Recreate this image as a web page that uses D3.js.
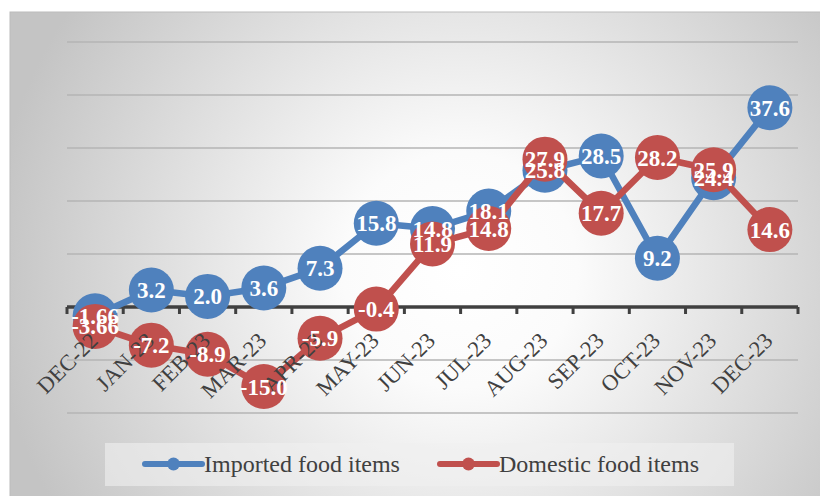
<!DOCTYPE html>
<html><head><meta charset="utf-8">
<script src="https://cdn.jsdelivr.net/npm/d3@7/dist/d3.min.js"></script>
<style>html,body{margin:0;padding:0;background:#fff;overflow:hidden}svg{display:block}</style>
</head><body>
<script>
const categories = ["DEC-22","JAN-23","FEB-23","MAR-23","APR-23","MAY-23","JUN-23","JUL-23","AUG-23","SEP-23","OCT-23","NOV-23","DEC-23"];
const imported = [-1.66, 3.2, 2.0, 3.6, 7.3, 15.8, 14.8, 18.1, 25.8, 28.5, 9.2, 24.4, 37.6];
const domestic = [-3.66, -7.2, -8.9, -15.0, -5.9, -0.4, 11.9, 14.8, 27.9, 17.7, 28.2, 25.9, 14.6];
const importedLabels = ["-1.66","3.2","2.0","3.6","7.3","15.8","14.8","18.1","25.8","28.5","9.2","24.4","37.6"];
const domesticLabels = ["-3.66","-7.2","-8.9","-15.0","-5.9","-0.4","11.9","14.8","27.9","17.7","28.2","25.9","14.6"];
const gridTicks = [-20, -10, 10, 20, 30, 40, 50];
const seriesNames = ["Imported food items", "Domestic food items"];
const seriesColors = ["#4F81BD", "#C0504D"];

const W = 820, H = 496;
const svg = d3.select("body").append("svg").attr("width", W).attr("height", H);
const defs = svg.append("defs");
const rg = defs.append("radialGradient").attr("id","bg").attr("gradientUnits","userSpaceOnUse")
  .attr("cx",460).attr("cy",270).attr("r",470);
rg.append("stop").attr("offset","0").attr("stop-color","#FFFFFF");
rg.append("stop").attr("offset","0.25").attr("stop-color","#FBFBFB");
rg.append("stop").attr("offset","1").attr("stop-color","#C4C4C4");

svg.append("rect").attr("x",10).attr("y",12).attr("width",W).attr("height",H)
  .attr("fill","url(#bg)").attr("stroke","#BBBBBB").attr("stroke-width",1);

const x = d3.scaleBand().domain(categories).range([67, 798]).padding(0);
const y = d3.scaleLinear().domain([-20, 50]).range([413, 42]);
const cx = c => x(c) + x.bandwidth()/2;

// gridlines
svg.append("g").selectAll("line").data(gridTicks).join("line")
  .attr("x1", 67).attr("x2", 798)
  .attr("y1", d => y(d)).attr("y2", d => y(d))
  .attr("stroke", "#B4B4B4").attr("stroke-width", 1.5);

// axis line at zero
const axisG = svg.append("g").attr("transform", `translate(0,${y(0)})`);
axisG.append("line").attr("x1", 67).attr("x2", 798).attr("y1", 0).attr("y2", 0)
  .attr("stroke", "#404040").attr("stroke-width", 3.5);
const bounds = categories.map(c => x(c)).concat([x.range()[1]]);
axisG.selectAll(".tk").data(bounds).join("line").attr("class","tk")
  .attr("x1", d => d).attr("x2", d => d).attr("y1", 0).attr("y2", 7)
  .attr("stroke", "#404040").attr("stroke-width", 3);

// series
const series = [
  {name: seriesNames[0], values: imported, labels: importedLabels, color: seriesColors[0]},
  {name: seriesNames[1], values: domestic, labels: domesticLabels, color: seriesColors[1]}
];
const line = d3.line().x((d,i) => cx(categories[i])).y(d => y(d));
series.forEach(s => {
  const g = svg.append("g");
  g.append("path").datum(s.values).attr("d", line).attr("fill","none")
    .attr("stroke", s.color).attr("stroke-width", 6.5).attr("stroke-linejoin","round").attr("stroke-linecap","round");
  g.selectAll("circle").data(s.values).join("circle")
    .attr("cx", (d,i) => cx(categories[i])).attr("cy", d => y(d)).attr("r", 22.5)
    .attr("fill", s.color);
});

// category labels (drawn over the series)
const labG = svg.append("g").attr("transform", `translate(0,${y(0)})`);
labG.call(d3.axisBottom(x).tickSize(0).tickSizeOuter(0));
labG.select(".domain").remove();
labG.selectAll(".tick text")
  .attr("font-family", "'Liberation Serif','Times New Roman',serif")
  .attr("font-size", 22.5).attr("fill", "#404040")
  .attr("text-anchor", "end").attr("x", 0).attr("y", 0).attr("dy", 0)
  .attr("transform", "translate(4,35) rotate(-45)");

// data labels
series.forEach(s => {
  svg.append("g").selectAll("text").data(s.values).join("text")
    .attr("x", (d,i) => cx(categories[i])).attr("y", d => y(d)).attr("dy", "0.35em")
    .attr("text-anchor","middle")
    .attr("font-family", "'Liberation Serif','Times New Roman',serif")
    .attr("font-weight", "bold").attr("font-size", 23).attr("fill", "#FFFFFF")
    .text((d,i) => s.labels[i]);
});

// legend
const lg = svg.append("g");
lg.append("rect").attr("x",105).attr("y",443).attr("width",629).attr("height",43)
  .attr("fill","#F0F0F0").attr("fill-opacity",0.6);
const legendX = [145, 440];
series.forEach((s, i) => {
  const lx = legendX[i];
  lg.append("line").attr("x1", lx).attr("x2", lx+57).attr("y1", 464).attr("y2", 464)
    .attr("stroke", s.color).attr("stroke-width", 6).attr("stroke-linecap","round");
  lg.append("circle").attr("cx", lx+28.5).attr("cy", 464).attr("r", 6.5).attr("fill", s.color);
  lg.append("text").attr("x", lx+59).attr("y", 464).attr("dy","0.35em")
    .attr("font-family", "'Liberation Serif','Times New Roman',serif")
    .attr("font-size", 24).attr("fill", "#404040").text(s.name);
});
</script>
</body></html>
